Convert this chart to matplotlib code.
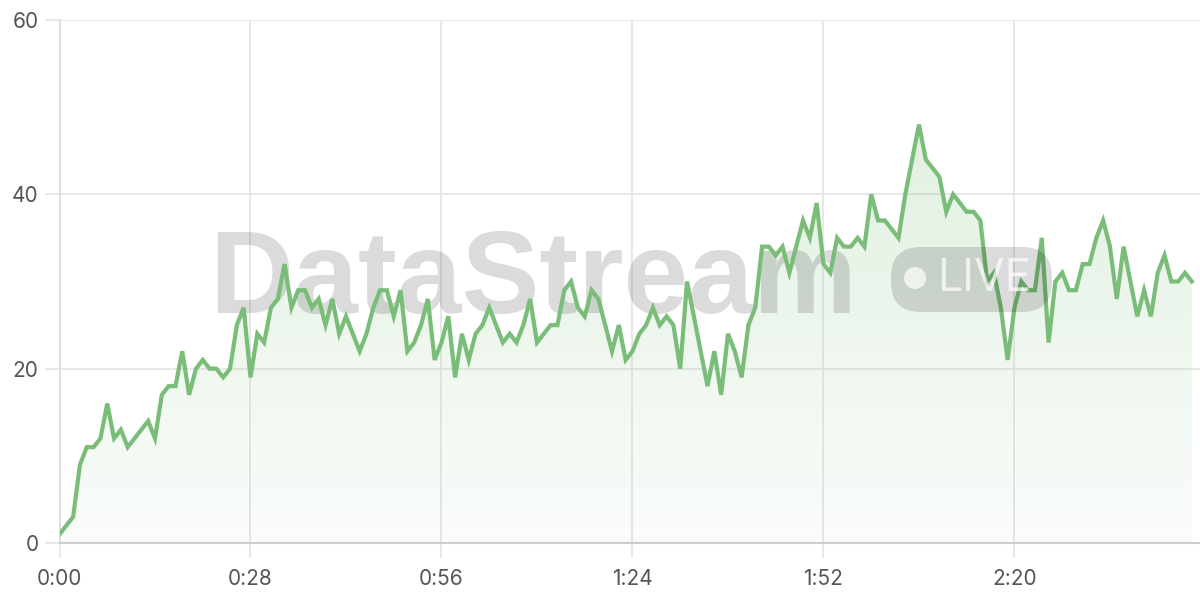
import numpy as np
import matplotlib
matplotlib.use("Agg")
import matplotlib.pyplot as plt
from matplotlib.patches import FancyBboxPatch, Circle

# one sample per second
values = [1, 2, 3, 9, 11, 11, 12, 16, 12, 13, 11, 12, 13, 14, 12, 17, 18, 18, 22, 17,
          20, 21, 20, 20, 19, 20, 25, 27, 19, 24, 23, 27, 28, 32, 27, 29, 29, 27, 28, 25,
          28, 24, 26, 24, 22, 24, 27, 29, 29, 26, 29, 22, 23, 25, 28, 21, 23, 26, 19, 24,
          21, 24, 25, 27, 25, 23, 24, 23, 25, 28, 23, 24, 25, 25, 29, 30, 27, 26, 29, 28,
          25, 22, 25, 21, 22, 24, 25, 27, 25, 26, 25, 20, 30, 26, 22, 18, 22, 17, 24, 22,
          19, 25, 27, 34, 34, 33, 34, 31, 34, 37, 35, 39, 32, 31, 35, 34, 34, 35, 34, 40,
          37, 37, 36, 35, 40, 44, 48, 44, 43, 42, 38, 40, 39, 38, 38, 37, 30, 31, 27, 21,
          27, 30, 29, 29, 35, 23, 30, 31, 29, 29, 32, 32, 35, 37, 34, 28, 34, 30, 26, 29,
          26, 31, 33, 30, 30, 31, 30]
seconds = list(range(len(values)))
tick_seconds = [0, 28, 56, 84, 112, 140]
tick_labels = ["0:00", "0:28", "0:56", "1:24", "1:52", "2:20"]
y_ticks = [0, 20, 40, 60]

line_color = "#79bd79"
text_color = "#555555"

fig = plt.figure(figsize=(12, 6), dpi=100)
ax = fig.add_axes([59.5 / 1200, 57 / 600, 1 - 59.5 / 1200, 523 / 600])

# gradient fill under the line
grad = np.linspace(0.04, 0.22, 256).reshape(-1, 1)
rgba = np.zeros((256, 1, 4))
rgba[..., 0] = 0x79 / 255
rgba[..., 1] = 0xbd / 255
rgba[..., 2] = 0x79 / 255
rgba[..., 3] = grad
img = ax.imshow(rgba, extent=[0, seconds[-1], 0, 48], origin="lower",
                aspect="auto", zorder=1, interpolation="bilinear")
poly = ax.fill_between(seconds, values, 0, color="none", lw=0)
img.set_clip_path(poly.get_paths()[0], transform=ax.transData)
ax.set_xlim(0, 167.2)
ax.set_ylim(0, 60)

# watermark
ax.text(0.131, 0.440, "DataStream", transform=ax.transAxes, fontsize=84,
        fontweight="bold", family="Liberation Sans", color="black", alpha=0.14,
        ha="left", va="baseline", zorder=2)
# pill in figure pixel coords
x0, y0, w, h = 891, 600 - 312, 161, 65
pill = FancyBboxPatch((x0, y0), w, h, boxstyle="round,pad=0,rounding_size=30",
                      transform=None, facecolor="black", alpha=0.14, lw=0, zorder=2)
fig.patches.append(pill)
fig.patches.append(Circle((915, 600 - 278), 11, transform=None, facecolor="white",
                          alpha=0.7, lw=0, zorder=3))
fig.text(937 / 1200, (600 - 279) / 600, "LIVE", fontsize=32, family="Inter",
         color="white", alpha=0.7, ha="left", va="center", zorder=3)

ax.plot(seconds, values, color=line_color, lw=3, solid_joinstyle="miter", zorder=4)

ax.set_xticks(tick_seconds)
ax.set_xticklabels(tick_labels)
ax.set_yticks(y_ticks)
ax.grid(True, color="#e6e6e6", lw=1.3, zorder=0)
ax.set_axisbelow(True)
ax.tick_params(axis="both", length=11, width=1.3, color="#e6e6e6",
               labelsize=15, labelcolor=text_color)
ax.tick_params(axis="x", pad=8)
ax.tick_params(axis="y", pad=4)
for lab in ax.get_xticklabels() + ax.get_yticklabels():
    lab.set_family("Inter")
for s in ["top", "right"]:
    ax.spines[s].set_visible(False)
ax.spines["left"].set_color("#dddddd")
ax.spines["left"].set_linewidth(1.3)
ax.spines["bottom"].set_color("#cccccc")
ax.spines["bottom"].set_linewidth(1.5)

fig.savefig("out.png", dpi=100)
